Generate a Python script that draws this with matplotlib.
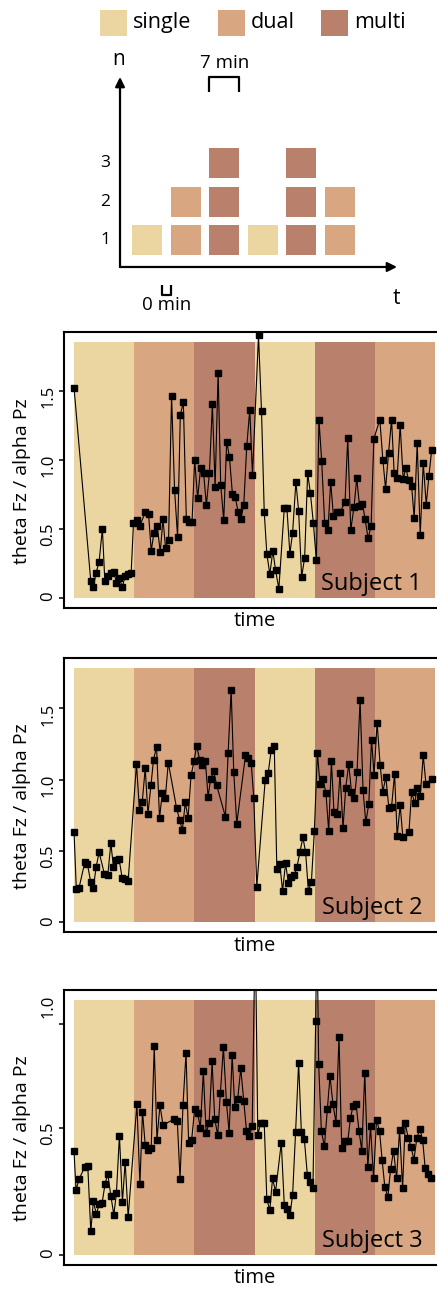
import matplotlib
matplotlib.use('Agg')
import matplotlib.pyplot as plt
from matplotlib.patches import Rectangle
import numpy as np

plt.rcParams['font.family'] = ['Open Sans', 'DejaVu Sans']

# block design: 6 blocks of 7 min (420 s)
blocks = ['single', 'dual', 'multi', 'single', 'multi', 'dual']
n_back = {'single': 1, 'dual': 2, 'multi': 3}
block_len = 420
colors = {'single': '#EBD5A0', 'dual': '#D8A680', 'multi': '#B9816C'}

# subject 1 (time in s, ratio)
t1 = [0, 117, 135, 154, 175, 198, 215, 236, 257, 278, 296, 315, 338, 357, 378, 399, 415, 439, 460, 497,
      520, 539, 558, 581, 602, 621, 639, 660, 681, 702, 723, 742, 763, 784, 803, 824, 842, 863, 884, 905,
      924, 945, 966, 985, 1006, 1024, 1045, 1066, 1085, 1106, 1125, 1146, 1164, 1185, 1206, 1227, 1246,
      1288, 1309, 1328, 1346, 1367, 1388, 1407, 1430, 1468, 1486, 1507, 1526, 1549, 1568, 1589, 1610, 1631,
      1650, 1671, 1692, 1710, 1729, 1750, 1773, 1792, 1811, 1834, 1857, 1892, 1911, 1932, 1955, 1974, 1993,
      2014, 2032, 2053, 2074, 2093, 2135, 2156, 2175, 2196, 2217, 2235, 2256, 2277, 2298, 2317, 2336, 2357,
      2375, 2396, 2417, 2438, 2459, 2478, 2497]
v1 = [1.52, 0.12, 0.08, 0.18, 0.26, 0.50, 0.12, 0.16, 0.18, 0.19, 0.11, 0.14, 0.08, 0.16, 0.17, 0.18, 0.54,
      0.56, 0.52, 0.62, 0.61, 0.34, 0.47, 0.52, 0.33, 0.57, 0.36, 0.42, 1.46, 0.78, 0.44, 1.32, 1.42, 0.57,
      0.55, 0.55, 1.00, 0.72, 0.94, 0.90, 0.67, 0.90, 1.40, 0.80, 1.63, 0.82, 0.56, 1.13, 1.02, 0.75, 0.73,
      0.62, 0.57, 0.67, 1.10, 1.36, 0.89,
      1.90, 1.35, 0.62, 0.32, 0.17, 0.34, 0.20, 0.065, 0.65, 0.65, 0.32, 0.47, 0.84, 0.63, 0.15, 0.29, 0.90,
      0.76, 0.54, 0.27, 1.29, 0.99, 0.54, 0.49, 0.84, 0.59, 0.62, 0.62, 0.69, 1.16, 0.49, 0.66, 0.865, 0.665,
      0.68, 0.57, 0.43, 0.52, 1.15, 1.29, 1.00, 0.79, 1.05, 1.29, 0.905, 0.87, 1.25, 0.86, 0.94, 0.85, 0.81,
      0.575, 1.12, 0.455, 0.975, 0.675, 0.885, 1.07]

# subject 2
t2 = [0, 16, 35, 75, 93, 117, 135, 154, 175, 212, 236, 257, 275, 296, 315, 336, 357, 378, 436, 457, 476,
      497, 516, 537, 555, 576, 597, 616, 637, 658, 716, 737, 756, 777, 796, 817, 838, 856, 877, 896, 917,
      936, 954, 975, 996, 1057, 1076, 1097, 1115, 1136, 1197, 1216, 1237, 1255,
      1276, 1335, 1356, 1377, 1398, 1416, 1437, 1456, 1477, 1496, 1517, 1538, 1556, 1577, 1598, 1617, 1636,
      1657, 1678, 1699, 1717, 1738, 1759, 1778, 1797, 1815, 1839, 1857, 1878, 1897, 1918, 1937, 1958, 1976,
      1997, 2018, 2037, 2058, 2077, 2095, 2116, 2137, 2156, 2177, 2198, 2217, 2238, 2256, 2277, 2296, 2338,
      2357, 2378, 2396, 2417, 2438, 2457, 2497]
v2 = [0.635, 0.23, 0.24, 0.42, 0.41, 0.28, 0.24, 0.385, 0.49, 0.34, 0.33, 0.555, 0.39, 0.435, 0.44, 0.31,
      0.30, 0.29, 1.11, 0.785, 0.84, 1.08, 0.76, 0.96, 1.14, 1.23, 0.73, 0.905, 0.87, 1.12, 0.80, 0.72, 0.645,
      0.84, 0.73, 1.03, 1.13, 1.24, 1.14, 1.10, 1.13, 0.88, 1.005, 1.06, 0.96, 0.74, 1.19, 1.63, 1.057, 0.69,
      1.17, 1.15, 1.12, 0.87,
      0.25, 1.00, 1.05, 1.21, 1.24, 0.37, 0.405, 0.22, 0.415, 0.275, 0.315, 0.33, 0.385, 0.49, 0.595, 0.49,
      0.22, 0.28, 0.64, 1.19, 0.97, 1.005, 0.905, 0.64, 1.13, 0.77, 0.76, 1.05, 0.66, 0.945, 1.11, 0.915,
      0.87, 1.057, 1.56, 0.925, 0.70, 0.83, 1.28, 1.035, 1.40, 1.105, 0.915, 1.02, 0.80, 0.81, 1.04, 0.605,
      0.82, 0.595, 0.63, 0.915, 0.835, 0.945, 0.885, 1.17, 0.97, 1.008]

# subject 3 (two peaks run off the top of the panel)
t3 = [0, 14, 35, 75, 96, 117, 135, 156, 175, 196, 217, 236, 257, 278, 296, 317, 338, 357, 378, 439, 460,
      478, 497, 518, 539, 560, 579, 600, 621, 700, 721, 740, 761, 782, 800, 821, 842, 863, 882, 903, 922,
      943, 964, 982, 1003, 1022, 1043, 1064, 1083, 1104, 1122, 1143, 1164, 1185, 1204, 1225, 1244,
      1265, 1283, 1304, 1328, 1346, 1367, 1386, 1407, 1447, 1468, 1486, 1507, 1526, 1547, 1568, 1587, 1608,
      1629, 1647, 1668, 1687, 1696, 1708, 1727, 1748, 1769, 1787, 1808, 1829, 1850, 1869, 1890, 1911, 1930,
      1948, 1969, 1990, 2009, 2030, 2051, 2070, 2091, 2112, 2133, 2151, 2170, 2191, 2210, 2231, 2252, 2273,
      2294, 2312, 2333, 2354, 2373, 2394, 2415, 2434, 2452, 2473, 2494]
v3 = [0.406, 0.254, 0.297, 0.345, 0.348, 0.092, 0.21, 0.16, 0.198, 0.203, 0.28, 0.317, 0.232, 0.157, 0.243,
      0.468, 0.206, 0.366, 0.149, 0.592, 0.277, 0.562, 0.431, 0.41, 0.42, 0.819, 0.452, 0.588, 0.51, 0.533,
      0.526, 0.299, 0.59, 0.794, 0.438, 0.45, 0.572, 0.556, 0.50, 0.72, 0.48, 0.516, 0.76, 0.535, 0.47, 0.637,
      0.816, 0.599, 0.48, 0.786, 0.58, 0.613, 0.732, 0.604, 0.488, 0.466, 0.507,
      1.3, 0.472, 0.518, 0.516, 0.218, 0.175, 0.30, 0.248, 0.44, 0.196, 0.18, 0.155, 0.235, 0.484, 0.754,
      0.484, 0.454, 0.313, 0.286, 0.263, 0.917, 1.3, 0.749, 0.485, 0.426, 0.574, 0.702, 0.591, 0.518, 0.857,
      0.418, 0.446, 0.446, 0.538, 0.584, 0.592, 0.485, 0.409, 0.716, 0.343, 0.505, 0.30, 0.531, 0.485, 0.373,
      0.266, 0.227, 0.336, 0.409, 0.30, 0.492, 0.263, 0.518, 0.459, 0.422, 0.373, 0.46, 0.495, 0.45, 0.339,
      0.317, 0.30]

subjects = ['Subject 1', 'Subject 2', 'Subject 3']
series = [(t1, v1), (t2, v2), (t3, v3)]
shade_tops = [1.85, 1.785, 1.0]
yticks = [[0, 0.5, 1.0, 1.5], [0, 0.5, 1.0, 1.5], [0, 0.5, 0.906, 1.0]]
yticklabels = [['0', '0.5', '1.0', '1.5'], ['0', '0.5', '1.0', '1.5'], ['0', '0.5', '', '1.0']]

W, H = 437, 1292
fig = plt.figure(figsize=(W / 100, H / 100), dpi=100)
fig.patch.set_facecolor('white')


def px_axes(left, top, right, bottom):
    return fig.add_axes([left / W, 1 - bottom / H, (right - left) / W, (bottom - top) / H])


# ---- schematic of the block design ----
ax0 = px_axes(0, 0, 437, 320)
ax0.set_xlim(-2.809, 8.512)
ax0.set_ylim(-1.077, 7.235)
ax0.axis('off')

sq = 0.78
for i, cond in enumerate(blocks, start=1):
    levels = np.arange(1, n_back[cond] + 1)
    ax0.bar(np.full(len(levels), i), np.full(len(levels), sq), bottom=levels - sq / 2,
            width=sq, color=colors[cond], linewidth=0)

arrow = dict(arrowstyle='-|>', lw=1.6, color='black', mutation_scale=14, shrinkA=0, shrinkB=0)
ax0.annotate('', xy=(0.3, 5.235), xytext=(0.3, 0.3), arrowprops=arrow)
ax0.annotate('', xy=(7.476, 0.3), xytext=(0.3, 0.3), arrowprops=arrow)
for n in [1, 2, 3]:
    ax0.text(-0.09, n, str(n), fontsize=12.5, ha='center', va='center')
ax0.text(0.27, 5.68, 'n', fontsize=15, ha='center', va='center')
ax0.text(7.45, -0.52, 't', fontsize=15, ha='center', va='center')

# 7 min bracket over the third block, 0 min gap mark
ax0.plot([3 - sq / 2, 3 - sq / 2, 3 + sq / 2, 3 + sq / 2], [4.845, 5.235, 5.235, 4.845],
         color='black', lw=1.6, solid_capstyle='butt')
ax0.text(3, 5.6, '7 min', fontsize=13.5, ha='center', va='center')
ax0.plot([1 + sq / 2, 1 + sq / 2, 2 - sq / 2, 2 - sq / 2], [-0.17, -0.43, -0.43, -0.17],
         color='black', lw=1.6, solid_capstyle='butt')
ax0.text(1.52, -0.69, '0 min', fontsize=13.5, ha='center', va='center')

# legend
for cond, x0 in zip(['single', 'dual', 'multi'], [-0.218, 2.839, 5.507]):
    ax0.add_patch(Rectangle((x0, 6.3), 0.7, 0.675, color=colors[cond], linewidth=0))
    ax0.text(x0 + 0.86, 6.64, cond, fontsize=15.5, ha='left', va='center')

# ---- subject panels ----
boxes = [(332, 608), (657.7, 932.3), (990, 1265)]
starts = np.arange(len(blocks)) * block_len
for k in range(3):
    top, bottom = boxes[k]
    ax = px_axes(64, top, 445, bottom)
    st = shade_tops[k]
    ax.bar(starts, np.full(len(blocks), st), width=block_len, align='edge',
           color=[colors[b] for b in blocks], linewidth=0, zorder=1)
    t, v = series[k]
    ax.plot(t, v, '-s', color='black', lw=0.8, ms=4.0, zorder=3)
    pad = 0.04 * st
    ax.set_ylim(-pad, st + pad)
    ax.set_xlim(-70, 2590)
    ax.set_xticks([])
    ax.set_yticks(yticks[k])
    ax.set_yticklabels(yticklabels[k])
    ax.tick_params(axis='y', direction='out', length=3.6, width=1.1, labelsize=12, pad=2,
                   labelrotation=90)
    if k == 2:
        ax.yaxis.get_major_ticks()[3].tick1line.set_visible(False)
    for s in ax.spines.values():
        s.set_linewidth(1.5)
    ax.set_xlabel('time', fontsize=14.5, labelpad=2.5)
    ax.set_ylabel('theta Fz / alpha Pz', fontsize=14)
    ax.yaxis.set_label_coords(-0.087, 0.46)
    ax.text(0.94, 0.065, subjects[k], transform=ax.transAxes, ha='right', va='baseline',
            fontsize=17, zorder=4)

fig.savefig('out.png', dpi=100)
